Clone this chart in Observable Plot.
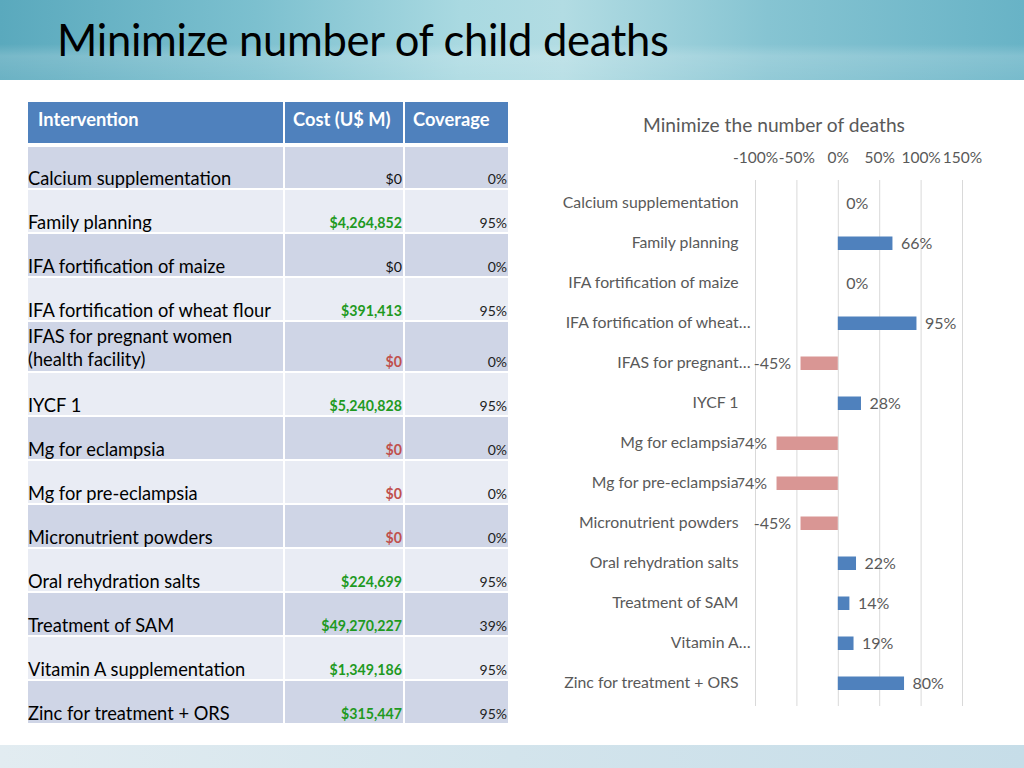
<!DOCTYPE html>
<html><head><meta charset="utf-8">
<script src="https://cdn.jsdelivr.net/npm/d3@7"></script>
<script src="https://cdn.jsdelivr.net/npm/@observablehq/plot@0.6"></script>
<style>
body{margin:0;width:1024px;height:768px;overflow:hidden;background:#fff;font-family:Lato,"Open Sans",sans-serif;position:relative}
#banner{position:absolute;left:0;top:0;width:1024px;height:80px;
 background:linear-gradient(to bottom,rgba(255,255,255,0) 0%,rgba(255,255,255,0) 55%,rgba(255,255,255,0.18) 70%,rgba(255,255,255,0.1) 100%),
 linear-gradient(to right,#5aa9bd 0%,#7cc0cf 25%,#a9d9e1 45%,#b2dce3 55%,#86c4d2 75%,#68b3c6 100%);}
#title{position:absolute;left:57px;top:13px;font-size:43.5px;color:#000;white-space:nowrap;letter-spacing:-0.3px}
#footer{position:absolute;left:0;top:745px;width:1024px;height:23px;background:linear-gradient(to right,#e2ecf1,#d3e4ec 50%,#c6dde8)}
table{position:absolute;left:26px;top:100px;border-collapse:separate;border-spacing:2px;table-layout:fixed}
th{background:#4f81bd;color:#fff;font-weight:bold;font-size:18.3px;text-align:left;vertical-align:top;height:41px;padding:0;box-sizing:border-box;padding-top:6px;white-space:nowrap}
td{padding:0;vertical-align:bottom;box-sizing:border-box;white-space:nowrap}
td.name{font-size:18.3px;color:#000;padding-bottom:0px;line-height:19px}
td.name.two{line-height:23px}
td.cost{font-size:14.2px;font-weight:bold;text-align:right;padding-right:1px;padding-bottom:1px}
td.cov{font-size:14px;color:#222;text-align:right;padding-right:1px;padding-bottom:1px}
tr.dark td{background:#cfd5e6}
tr.light td{background:#e9ecf4}
#ctitle{position:absolute;left:574px;top:113px;width:400px;text-align:center;font-size:19.2px;color:#595959}
#chart{position:absolute;left:540px;top:139px}
</style></head>
<body>
<div id="banner"></div>
<div id="title">Minimize number of child deaths</div>
<div id="footer"></div>
<table id="tbl"></table>
<div id="ctitle">Minimize the number of deaths</div>
<div id="chart"></div>
<script>
const interventions = ["Calcium supplementation","Family planning","IFA fortification of maize","IFA fortification of wheat flour","IFAS for pregnant women (health facility)","IYCF 1","Mg for eclampsia","Mg for pre-eclampsia","Micronutrient powders","Oral rehydration salts","Treatment of SAM","Vitamin A supplementation","Zinc for treatment + ORS"];
const costs = [0, 4264852, 0, 391413, 0, 5240828, 0, 0, 0, 224699, 49270227, 1349186, 315447];
const coverage = [0, 95, 0, 95, 0, 95, 0, 0, 0, 95, 39, 95, 95];
const chartLabels = ["Calcium supplementation","Family planning","IFA fortification of maize","IFA fortification of wheat…","IFAS for pregnant…","IYCF 1","Mg for eclampsia","Mg for pre-eclampsia","Micronutrient powders","Oral rehydration salts","Treatment of SAM","Vitamin A…","Zinc for treatment + ORS"];
const deathChange = [0, 66, 0, 95, -45, 28, -74, -74, -45, 22, 14, 19, 80];
const xTicks = [-100, -50, 0, 50, 100, 150];
const headers = ["Intervention","Cost (U$ M)","Coverage"];

// table
const tbl = document.getElementById("tbl");
const colW = [255, 118, 103];
const cg = document.createElement("colgroup");
colW.forEach(w => { const c = document.createElement("col"); c.style.width = w + "px"; cg.appendChild(c); });
tbl.appendChild(cg);
const hr = document.createElement("tr");
headers.forEach((h, i) => { const th = document.createElement("th"); th.textContent = h; th.style.paddingLeft = (i === 0 ? 10 : 8) + "px"; hr.appendChild(th); });
tbl.appendChild(hr);
const sp = document.createElement("tr"); sp.style.height = "0px"; tbl.appendChild(sp);
const fmtMoney = d3.format(",");
interventions.forEach((name, i) => {
  const tr = document.createElement("tr");
  tr.className = i % 2 === 0 ? "dark" : "light";
  const twoLine = name.includes("(");
  tr.style.height = (twoLine ? 49 : (i === 0 ? 41 : 42)) + "px";
  const a = document.createElement("td"); a.className = twoLine ? "name two" : "name";
  if (twoLine) {
    const k = name.indexOf("(");
    a.append(name.slice(0, k).trim(), document.createElement("br"), name.slice(k));
  } else a.textContent = name;
  const b = document.createElement("td"); b.className = "cost";
  b.textContent = "$" + fmtMoney(costs[i]);
  b.style.color = costs[i] > 0 ? "#1f9a1f" : (deathChange[i] < 0 ? "#c0504d" : "#111");
  if (costs[i] === 0 && deathChange[i] >= 0) b.style.fontWeight = "normal";
  const c = document.createElement("td"); c.className = "cov";
  c.textContent = coverage[i] + "%";
  tr.append(a, b, c);
  tbl.appendChild(tr);
});

// chart
const rows = chartLabels.map((label, i) => ({label, v: deathChange[i]}));
const chart = Plot.plot({
  width: 450, height: 581,
  marginLeft: 215, marginRight: 28, marginTop: 41, marginBottom: 14,
  style: {fontFamily: "Lato, 'Open Sans', sans-serif", fontSize: "15.5px", color: "#595959", background: "transparent", overflow: "visible"},
  x: {domain: [-100, 150], ticks: xTicks, tickFormat: d => d + "%", axis: "top", tickSize: 0, tickPadding: 18, label: null},
  y: {domain: chartLabels, padding: 0, axis: null},
  color: {domain: ["neg", "pos"], range: ["#d99694", "#4f81bd"]},
  marks: [
    Plot.ruleX(xTicks, {stroke: "#d9d9d9", strokeOpacity: 1}),
    Plot.barX(rows, {x: "v", y: "label", fill: d => d.v < 0 ? "neg" : "pos", insetTop: 13.5, insetBottom: 13}),
    Plot.text(rows.filter(d => d.v >= 0), {x: "v", y: "label", text: d => d.v + "%", textAnchor: "start", dx: 8, fill: "#595959", fontSize: 16}),
    Plot.text(rows.filter(d => d.v < 0), {x: "v", y: "label", text: d => d.v + "%", textAnchor: "end", dx: -10, fill: "#595959", fontSize: 16}),
    Plot.text(rows.filter(d => !d.label.endsWith("…")), {y: "label", text: "label", frameAnchor: "left", textAnchor: "end", dx: -17, dy: -1, fill: "#595959", stroke: "white", strokeWidth: 4, fontSize: 15.8}),
    Plot.text(rows.filter(d => d.label.endsWith("…")), {y: "label", text: "label", frameAnchor: "left", textAnchor: "end", dx: -5, dy: -1, fill: "#595959", stroke: "white", strokeWidth: 4, fontSize: 15.8})
  ]
});
document.getElementById("chart").appendChild(chart);
</script>
</body></html>
